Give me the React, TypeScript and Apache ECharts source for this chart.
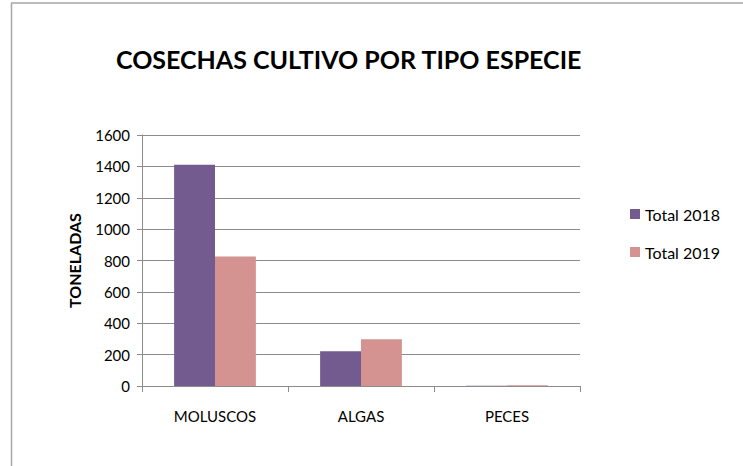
import React, { useEffect, useRef } from "react";
import * as echarts from "echarts";

const categories = ["MOLUSCOS", "ALGAS", "PECES"];
const total2018 = [1410, 222, 1];
const total2019 = [825, 298, 5];
const seriesNames = ["Total 2018", "Total 2019"];
const yTicks = { min: 0, max: 1600, interval: 200 };

const FONT = "Lato, 'Open Sans', sans-serif";

export default function App() {
  const ref = useRef<HTMLDivElement>(null);
  useEffect(() => {
    document.body.style.margin = "0";
    const chart = echarts.init(ref.current!, null, { renderer: "svg" });
    chart.setOption({
      animation: false,
      backgroundColor: "#ffffff",
      title: {
        text: "COSECHAS CULTIVO POR TIPO ESPECIE",
        left: 111,
        top: 41,
        textStyle: { fontFamily: FONT, fontWeight: "bold", fontSize: 25, color: "#000" },
      },
      graphic: [
        { type: "line", shape: { x1: 11.5, y1: 3, x2: 11.5, y2: 466 }, style: { stroke: "#a6a6a6", lineWidth: 1.5 } },
        { type: "line", shape: { x1: 11, y1: 3, x2: 743, y2: 3 }, style: { stroke: "#a6a6a6", lineWidth: 1.5 } },
      ],
      legend: {
        orient: "vertical",
        left: 625,
        top: 201,
        itemWidth: 10,
        itemHeight: 10,
        itemGap: 22,
        icon: "rect",
        data: seriesNames,
        textStyle: { fontFamily: FONT, fontSize: 16, color: "#000" },
      },
      grid: { left: 142, top: 135, width: 438, height: 251, containLabel: false },
      xAxis: {
        type: "category",
        data: categories,
        axisLine: { lineStyle: { color: "#8c8c8c", width: 1 } },
        axisTick: { show: true, length: 6, lineStyle: { color: "#8c8c8c" } },
        axisLabel: { fontFamily: FONT, fontSize: 15, color: "#000", margin: 22 },
      },
      yAxis: {
        type: "value",
        min: yTicks.min,
        max: yTicks.max,
        interval: yTicks.interval,
        name: "TONELADAS",
        nameLocation: "middle",
        nameRotate: 90,
        nameGap: 60,
        nameTextStyle: { fontFamily: FONT, fontWeight: "bold", fontSize: 16, color: "#000" },
        axisLine: { show: true, lineStyle: { color: "#8c8c8c", width: 1 } },
        axisTick: { show: true, length: 5, lineStyle: { color: "#8c8c8c" } },
        axisLabel: { fontFamily: FONT, fontSize: 15, color: "#000", margin: 12, formatter: (v: number) => String(v) },
        splitLine: { lineStyle: { color: "#8c8c8c", width: 1 } },
      },
      series: [
        {
          name: seriesNames[0],
          type: "bar",
          data: total2018,
          itemStyle: { color: "#735a8f" },
          barGap: "0%",
          barCategoryGap: "44%",
        },
        {
          name: seriesNames[1],
          type: "bar",
          data: total2019,
          itemStyle: { color: "#d49390" },
        },
      ],
    });
    return () => chart.dispose();
  }, []);
  return <div ref={ref} style={{ width: 743, height: 466 }} />;
}
